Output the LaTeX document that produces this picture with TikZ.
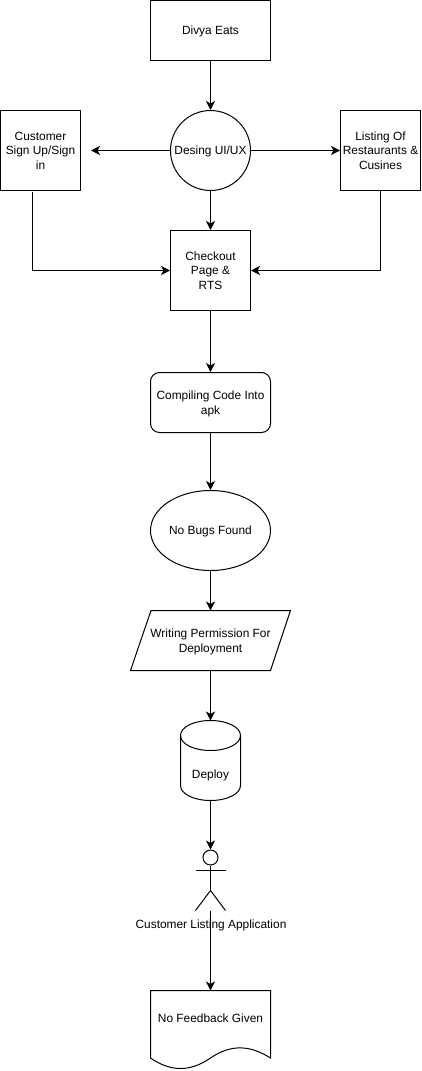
\documentclass[tikz,border=0pt]{standalone}
\usepackage{fontspec}
\setmainfont{Liberation Sans}
\usetikzlibrary{arrows.meta,shapes.geometric,positioning}
\tikzset{
  base/.style={draw=black,line width=1pt,align=center,inner sep=0pt,text depth=0pt,font=\fontsize{11.9}{14.6}\selectfont},
  boxn/.style={base,rectangle,minimum width=#1,minimum height=60pt},
  sq/.style={base,rectangle,minimum width=80pt,minimum height=80pt},
  conn/.style={line width=1pt,draw=black,-{Stealth[length=9pt,width=9pt,inset=2.5pt]}},
  plain/.style={line width=1pt,draw=black},
  lbl/.style={font=\fontsize{11.9}{14.6}\selectfont,align=center,inner sep=0pt,text depth=0pt}
}
\begin{document}
\begin{tikzpicture}[x=1pt,y=-1pt]
\useasboundingbox (0,0) rectangle (421,1071);
% boxes
\node[boxn=120pt] (divya) at (210.5,30.5) {Divya Eats};
\node[base,circle,minimum size=80pt] (ui) at (210.5,150.5) {};
\node[lbl] (uit) at (210.5,150.5) {Desing UI/UX};
\node[sq] (cust) at (40.5,150.5) {Customer\\Sign Up/Sign\\in};
\node[sq] (list) at (380.5,150.5) {Listing Of\\Restaurants \&\\Cusines};
\node[sq] (check) at (210.5,270.5) {Checkout\\Page \&\\RTS};
\node[base,rectangle,rounded corners=9pt,minimum width=120pt,minimum height=60pt] (comp) at (210.5,402.5) {Compiling Code Into\\apk};
\node[base,ellipse,minimum width=120pt,minimum height=80pt] (bugs) at (210.5,530.5) {No Bugs Found};
% parallelogram
\coordinate (permT) at (210.5,610.5);
\coordinate (permB) at (210.5,670.5);
\draw[plain,line join=miter] (151,610.5) -- (290.5,610.5) -- (270.5,670.5) -- (130.5,670.5) -- cycle;
\node[lbl] (perm) at (210.5,640.5) {Writing Permission For\\Deployment};
% cylinder
\coordinate (cylT) at (210.5,720.5);
\coordinate (cylB) at (210.5,800.5);
\draw[plain] (180.5,735.5) .. controls (180.5,727) and (194,720.5) .. (210.5,720.5) .. controls (227,720.5) and (240.5,727) .. (240.5,735.5) -- (240.5,785.5) .. controls (240.5,794) and (227,800.5) .. (210.5,800.5) .. controls (194,800.5) and (180.5,794) .. (180.5,785.5) -- cycle;
\draw[plain] (180.5,735.5) .. controls (180.5,744) and (194,750.5) .. (210.5,750.5) .. controls (227,750.5) and (240.5,744) .. (240.5,735.5);
\node[lbl] (deploy) at (210.5,774) {Deploy};
% actor
\node[draw=black,line width=1pt,circle,minimum size=15pt,inner sep=0pt] (head) at (210.5,857.5) {};
\coordinate (hip) at (210.5,890.5);
\coordinate (foot) at (210.5,910.5);
\draw[plain] (head.south) -- (hip);
\draw[plain] (195.5,870.5) -- (225.5,870.5);
\draw[plain] (195.5,910.5) -- (hip) -- (225.5,910.5);
\node[lbl] (actlbl) at (211,924.5) {Customer Listing Application};
% document
\coordinate (docT) at (210.5,990.5);
\draw[plain] (150.5,990.5) -- (270.5,990.5) -- (270.5,1058) .. controls (250,1045) and (231,1044) .. (210.5,1058) .. controls (190,1072) and (171,1072) .. (150.5,1058) -- cycle;
\node[lbl] (doc) at (210.5,1018.5) {No Feedback Given};
% free ends
\coordinate (custEnd) at (91,150.5);
\coordinate (custOut) at (32.5,192);
\coordinate (custElbow) at (32.5,270.5);
\coordinate (listElbow) at (380.5,270.5);
% connectors
\draw[conn] (divya.south) -- (ui.north);
\draw[conn] (ui.west) -- (custEnd);
\draw[conn] (ui.east) -- (list.west);
\draw[conn] (ui.south) -- (check.north);
\draw[conn] (custOut) -- (custElbow) -- (check.west);
\draw[conn] (list.south) -- (listElbow) -- (check.east);
\draw[conn] (check.south) -- (comp.north);
\draw[conn] (comp.south) -- (bugs.north);
\draw[conn] (bugs.south) -- (permT);
\draw[conn] (permB) -- (cylT);
\draw[conn] (cylB) -- (head.north);
\draw[conn] (foot) -- (docT);
\end{tikzpicture}
\end{document}
